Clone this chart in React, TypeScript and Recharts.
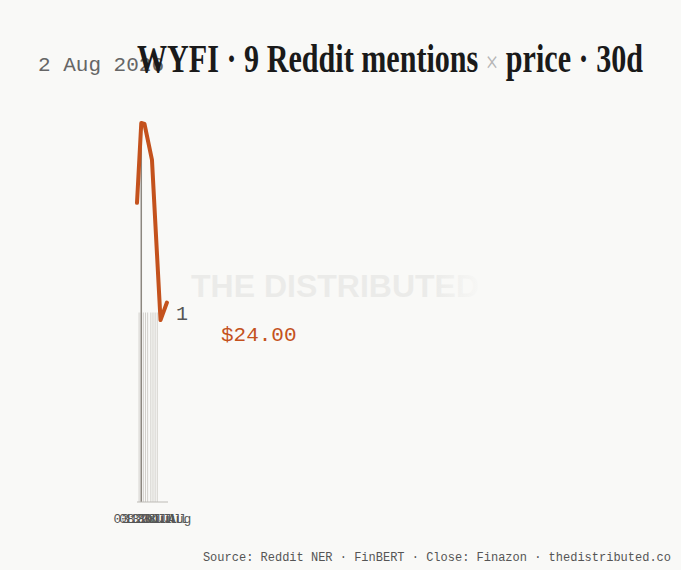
import React from "react";
import { ComposedChart, Bar, Line, XAxis, YAxis, ReferenceLine } from "recharts";

// Days since 3 Jul 2026
const mentionDays = [2, 4, 6, 8, 10, 13, 15, 17, 19];
const mentionCounts = [1, 1, 1, 1, 1, 1, 1, 1, 1];
const priceDays = [0, 4, 7, 14, 22, 28];
const prices = [29.0, 33.0, 32.95, 31.15, 23.12, 24.0];
const xTickDays = [0, 5, 10, 15, 20, 25, 29];
const xTickLabels = ["03 Jul", "08 Jul", "13 Jul", "18 Jul", "23 Jul", "28 Jul", "01 Aug"];
const peakDay = 4;
const mentionTicks = [1];

const TITLE_LEFT = "WYFI · 9 Reddit mentions ";
const TITLE_X = "×";
const TITLE_RIGHT = " price · 30d";
const DATE_TEXT = "2 Aug 2026";
const SOURCE_TEXT = "Source: Reddit NER · FinBERT · Close: Finazon · thedistributed.co";
const WATERMARK = "THE DISTRIBUTED";

const allDays = Array.from(new Set([...mentionDays, ...priceDays])).sort((a, b) => a - b);
const rows = allDays.map((d) => {
  const mi = mentionDays.indexOf(d);
  const pi = priceDays.indexOf(d);
  return {
    day: d,
    mentions: mi >= 0 ? mentionCounts[mi] : null,
    price: pi >= 0 ? prices[pi] : null,
  };
});
const lastPriceDay = priceDays[priceDays.length - 1];
const lastPrice = prices[prices.length - 1];

const MONO = "'Liberation Mono', 'DejaVu Sans Mono', monospace";
const ORANGE = "#c4521d";

const PriceLabel = (props: any) => {
  const { x, y, index } = props;
  if (rows[index] && rows[index].day === lastPriceDay) {
    return (
      <text x={x + 54} y={y + 38} fill={ORANGE} fontFamily={MONO} fontSize={21}>
        {"$" + lastPrice.toFixed(2)}
      </text>
    );
  }
  return null;
};

const XTick = (props: any) => {
  const { x, y, payload } = props;
  const i = xTickDays.indexOf(payload.value);
  return (
    <text
      x={x}
      y={y}
      dy="0.71em"
      textAnchor="middle"
      fill="#555"
      fontFamily={MONO}
      fontSize={13}
    >
      {i >= 0 ? xTickLabels[i] : ""}
    </text>
  );
};

export default function App() {
  return (
    <div
      style={{
        position: "absolute",
        left: 0,
        top: 0,
        width: 681,
        height: 570,
        background: "#f9f9f7",
        overflow: "hidden",
      }}
    >
      <svg width={681} height={570} style={{ position: "absolute", left: 0, top: 0 }}>
        <defs>
          <linearGradient id="wmfade" x1="191" x2="486" y1="0" y2="0" gradientUnits="userSpaceOnUse">
            <stop offset="0.82" stopColor="#ebebe9" stopOpacity={1} />
            <stop offset="1" stopColor="#ebebe9" stopOpacity={0} />
          </linearGradient>
        </defs>
        <text
          x={191}
          y={297}
          fontFamily="'Liberation Sans', Arial, sans-serif"
          fontWeight={700}
          fontSize={32}
          fill="url(#wmfade)"
        >
          {WATERMARK}
        </text>
      </svg>
      <div style={{ position: "absolute", left: 0, top: 0 }}>
        <ComposedChart
          width={681}
          height={570}
          data={rows}
          margin={{ top: 123, right: 473, bottom: 38, left: 137 }}
        >
          <XAxis
            dataKey="day"
            type="number"
            domain={[0, 29]}
            ticks={xTickDays}
            interval={0}
            tickLine={false}
            tickMargin={6}
            axisLine={{ stroke: "#bdbbb6", strokeWidth: 1 }}
            tick={<XTick />}
            height={30}
          />
          <YAxis yAxisId="p" hide domain={[14, 33]} />
          <YAxis
            yAxisId="m"
            orientation="right"
            domain={[0, 2]}
            ticks={mentionTicks}
            axisLine={false}
            tickLine={false}
            width={40}
            tick={{ fill: "#555", fontFamily: MONO, fontSize: 20 }}
          />
          <Bar
            yAxisId="m"
            dataKey="mentions"
            fill="#d1cfca"
            barSize={1.5}
            isAnimationActive={false}
          />
          <ReferenceLine yAxisId="m" x={peakDay} stroke="#8c877f" strokeWidth={1.5} />
          <Line
            yAxisId="p"
            dataKey="price"
            type="linear"
            stroke={ORANGE}
            strokeWidth={4}
            strokeLinejoin="round"
            strokeLinecap="round"
            dot={false}
            connectNulls
            isAnimationActive={false}
            label={PriceLabel}
          />
        </ComposedChart>
      </div>
      <svg
        width={681}
        height={570}
        style={{ position: "absolute", left: 0, top: 0, pointerEvents: "none" }}
      >
        <text x={38} y={71} fontFamily={MONO} fontSize={21} fill="#666">
          {DATE_TEXT}
        </text>
        <text
          x={137}
          y={72}
          textLength={506}
          lengthAdjust="spacingAndGlyphs"
          fontFamily="'Liberation Serif', 'DejaVu Serif', serif"
          fontWeight={700}
          fontSize={41}
          fill="#1a1a1a"
        >
          {TITLE_LEFT}
          <tspan fill="#b5b5b5" fontWeight={400} fontSize={30}>
            {TITLE_X}
          </tspan>
          {TITLE_RIGHT}
        </text>
        <text x={671} y={561} textAnchor="end" fontFamily={MONO} fontSize={12} fill="#555">
          {SOURCE_TEXT}
        </text>
      </svg>
    </div>
  );
}
